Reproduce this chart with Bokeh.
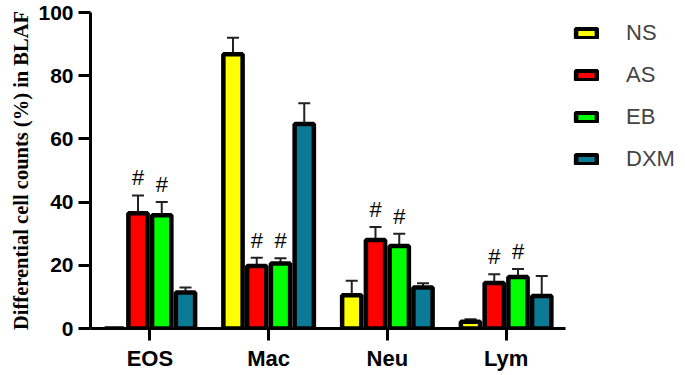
from bokeh.plotting import figure
from bokeh.models import (Range1d, FixedTicker, ColumnDataSource, Legend, LegendItem,
                          Whisker, TeeHead)
from bokeh.core.properties import value
from bokeh.embed import file_html
from bokeh.resources import INLINE

categories = ["EOS", "Mac", "Neu", "Lym"]
groups = ["NS", "AS", "EB", "DXM"]
ns_mean = [0.0, 86.8, 10.5, 2.1]
ns_sd = [0.0, 5.2, 4.6, 0.8]
as_mean = [36.5, 19.8, 28.0, 14.4]
as_sd = [5.6, 2.6, 4.1, 2.8]
eb_mean = [35.8, 20.6, 26.1, 16.3]
eb_sd = [4.2, 1.6, 3.9, 2.5]
dxm_mean = [11.4, 64.7, 13.0, 10.3]
dxm_sd = [1.6, 6.6, 1.3, 6.3]
# significance marks (# vs NS) per group, per category
sig = {
    "NS": ["", "", "", ""],
    "AS": ["#", "#", "#", "#"],
    "EB": ["#", "#", "#", "#"],
    "DXM": ["", "", "", ""],
}
y_ticks = [0, 20, 40, 60, 80, 100]

colors = ["#FFFF00", "#FF0000", "#00FF00", "#0B7A94"]
means = [ns_mean, as_mean, eb_mean, dxm_mean]
sds = [ns_sd, as_sd, eb_sd, dxm_sd]
offsets = [-0.3, -0.1, 0.1, 0.3]

p = figure(frame_width=475, frame_height=316, output_backend="svg", toolbar_location=None,
           x_range=Range1d(0.5, 4.5), y_range=Range1d(0, 100),
           min_border_left=90, min_border_top=12, min_border_bottom=40, min_border_right=100)
p.outline_line_color = None
p.grid.visible = False

items = []
for g, c, m, s, off in zip(groups, colors, means, sds, offsets):
    xs = [i + 1 + off for i in range(len(categories))]
    tops = [a + b for a, b in zip(m, s)]
    src = ColumnDataSource(dict(x=xs, top=m, up=tops, sig=sig[g]))
    w = Whisker(source=src, base="x", lower="top", upper="up", dimension="height",
                line_color="#222222", line_width=2,
                lower_head=None, upper_head=TeeHead(size=12, line_color="#222222", line_width=2))
    p.add_layout(w)
    r = p.vbar(x="x", top="top", width=0.162, source=src, fill_color=c,
               line_color="black", line_width=4.5)
    items.append(LegendItem(label=g, renderers=[r]))
    p.text(x="x", y="up", text="sig", source=src, text_align="center", text_baseline="bottom",
           y_offset=-5, text_font=value("Liberation Sans"), text_font_size="22px",
           text_color="black")

p.xaxis.ticker = FixedTicker(ticks=[1, 2, 3, 4])
p.xaxis.major_label_overrides = {i + 1: c for i, c in enumerate(categories)}
p.yaxis.ticker = FixedTicker(ticks=y_ticks)

for ax in (p.xaxis, p.yaxis):
    ax.axis_line_width = 3
    ax.axis_line_color = "black"
    ax.major_tick_line_width = 3
    ax.major_tick_line_color = "black"
    ax.major_tick_in = 0
    ax.major_tick_out = 12
    ax.minor_tick_line_color = None
    ax.major_label_text_font = "Liberation Sans"
    ax.major_label_text_font_style = "bold"
    ax.major_label_text_font_size = "21px"
    ax.major_label_text_color = "black"
    ax.major_label_standoff = 5

p.xaxis.major_label_text_font_size = "22px"
p.yaxis.axis_label = "Differential cell counts (%) in BLAF"
p.yaxis.axis_label_text_font = "Liberation Serif"
p.yaxis.axis_label_text_font_style = "bold"
p.yaxis.axis_label_text_font_size = "20.5px"
p.yaxis.axis_label_text_color = "black"
p.yaxis.axis_label_standoff = 3

legend = Legend(items=items, location="top_left", margin=8, padding=0,
                border_line_color=None, background_fill_alpha=0,
                glyph_width=26, glyph_height=12, label_standoff=27,
                label_text_font="Liberation Sans", label_text_font_size="22px",
                label_height=22, spacing=16)
p.add_layout(legend, "right")

open("out.html", "w").write(file_html(p, INLINE))
